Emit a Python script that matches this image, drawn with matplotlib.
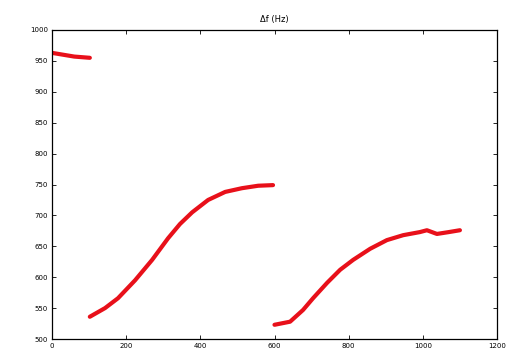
import matplotlib
matplotlib.use('Agg')
import matplotlib.pyplot as plt

# three recorded segments of the measurement
x1 = [0, 30, 60, 102]
y1 = [963, 960, 957, 955]

x2 = [102, 143, 178, 224, 270, 313, 345, 378, 421, 467, 512, 556, 596]
y2 = [536, 550, 566, 595, 628, 663, 686, 705, 725, 738, 744, 748, 749]

x3 = [600, 642, 677, 704, 742, 777, 812, 858, 903, 947, 992, 1011, 1038, 1070, 1100]
y3 = [523, 528, 547, 566, 591, 612, 628, 646, 660, 668, 673, 676, 670, 673, 676]

xticks = [0, 200, 400, 600, 800, 1000, 1200]
yticks = [500, 550, 600, 650, 700, 750, 800, 850, 900, 950, 1000]

fig = plt.figure(figsize=(5.12, 3.57), dpi=100)
ax = fig.add_axes([52 / 512, 18 / 357, 445 / 512, 309 / 357])

for xs, ys in [(x1, y1), (x2, y2), (x3, y3)]:
    ax.plot(xs, ys, color='#e8101a', linewidth=3, solid_capstyle='round',
            solid_joinstyle='round')

ax.set_xlim(0, 1200)
ax.set_ylim(500, 1000)
ax.set_xticks(xticks)
ax.set_yticks(yticks)
ax.tick_params(direction='in', top=True, right=True, labelsize=5, length=3, width=0.6, pad=3)
for s in ax.spines.values():
    s.set_linewidth(0.9)
ax.set_title('Δf (Hz)', fontsize=6, pad=6)

fig.savefig('out.png', dpi=100)
